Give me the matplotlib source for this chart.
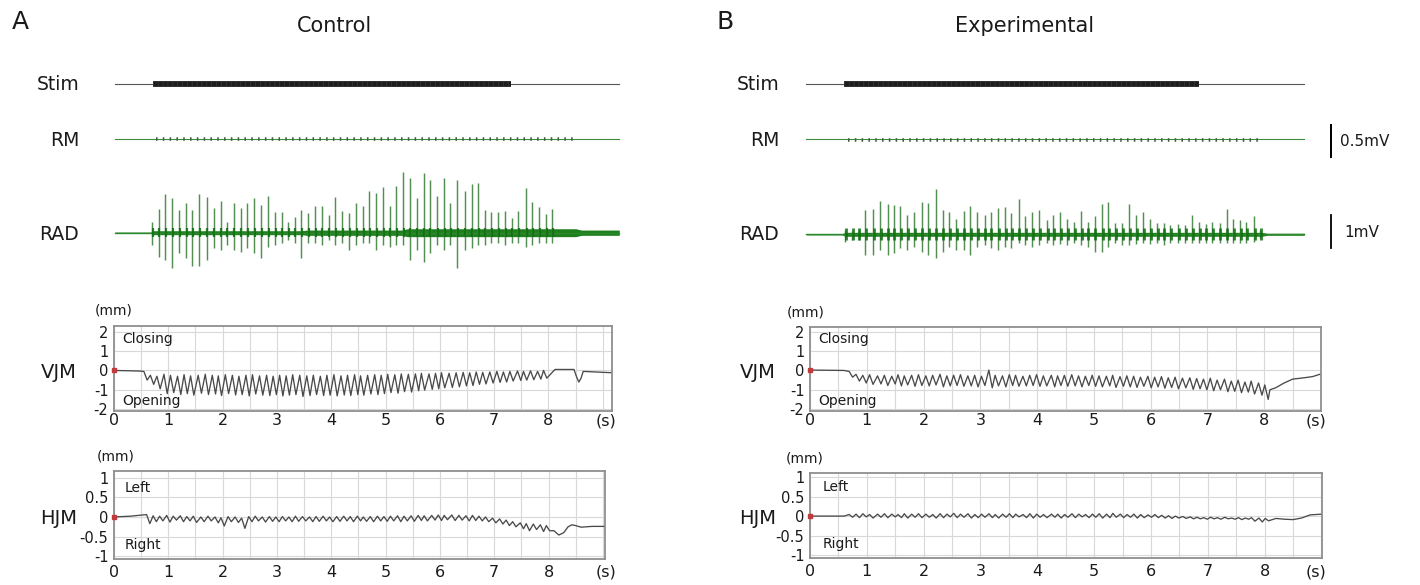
import numpy as np
import matplotlib
matplotlib.use("Agg")
import matplotlib.pyplot as plt

W, H = 1420, 585
plt.rcParams['font.family'] = ['DejaVu Sans']
plt.rcParams['lines.scale_dashes'] = False

# ---------------- data ----------------
# Panel A (Control) -- RAD burst spikes: time (s), upward and downward amplitude (mV)
rad_a_t = [0.65, 0.77, 0.89, 1.02, 1.14, 1.27, 1.39, 1.51, 1.65, 1.78,
           1.91, 2.02, 2.15, 2.28, 2.40, 2.53, 2.65, 2.78, 2.91, 3.03,
           3.15, 3.27, 3.39, 3.52, 3.65, 3.77, 3.90, 4.02, 4.15, 4.28,
           4.40, 4.53, 4.64, 4.77, 4.90, 5.02, 5.14, 5.27, 5.39, 5.52,
           5.65, 5.76, 5.90, 6.02, 6.13, 6.27, 6.40, 6.53, 6.65, 6.77,
           6.89, 7.02, 7.15, 7.27, 7.39, 7.53, 7.64, 7.77, 7.90, 8.01]
rad_a_up = [0.33, 0.71, 1.16, 1.04, 0.69, 0.89, 0.69, 1.16, 1.09, 0.74,
            0.96, 0.33, 0.91, 0.74, 0.89, 1.06, 0.84, 1.11, 0.64, 0.64,
            0.33, 0.48, 0.69, 0.61, 0.81, 0.82, 0.54, 1.07, 0.66, 0.59,
            0.89, 0.81, 1.26, 1.21, 1.39, 0.81, 1.43, 1.85, 1.65, 1.06,
            1.80, 1.60, 1.11, 1.65, 0.91, 1.60, 1.27, 1.49, 1.52, 0.69,
            0.64, 0.64, 0.67, 0.45, 0.67, 1.34, 0.94, 0.79, 0.56, 0.71]
rad_a_dn = [0.37, 0.73, 0.83, 1.08, 0.63, 0.78, 1.01, 1.01, 0.83, 0.47,
            0.51, 0.37, 0.53, 0.58, 0.47, 0.63, 0.78, 0.42, 0.37, 0.32,
            0.22, 0.30, 0.78, 0.32, 0.30, 0.37, 0.22, 0.37, 0.30, 0.51,
            0.37, 0.32, 0.32, 0.51, 0.37, 0.42, 0.37, 0.37, 0.83, 0.53,
            0.88, 0.63, 0.37, 0.53, 0.37, 1.08, 0.53, 0.47, 0.37, 0.37,
            0.32, 0.32, 0.37, 0.30, 0.32, 0.42, 0.37, 0.32, 0.30, 0.32]
rad_a_env_t = [-0.04, 0.62, 0.68, 3.40, 3.50, 5.25, 5.35, 8.45, 8.55, 9.25]
rad_a_env_w = [0.02, 0.02, 0.06, 0.06, 0.08, 0.08, 0.12, 0.12, 0.08, 0.08]
rec_a = [-0.04, 9.25]          # recording extent of the upper traces (s)
stim_a = [0.66, 7.25]          # stimulation train on/off (s)
rm_a = [0.72, 8.45]            # RM small responses on/off (s)

# VJM (mm): per-cycle peak and trough
vjm_a_peak = [-0.05, -0.25, -0.30, -0.20, -0.25, -0.30, -0.22, -0.28, -0.25, -0.20,
              -0.25, -0.28, -0.22, -0.25, -0.30, -0.25, -0.22, -0.28, -0.25, -0.30,
              -0.25, -0.28, -0.22, -0.25, -0.28, -0.25, -0.30, -0.25, -0.22, -0.28,
              -0.25, -0.22, -0.28, -0.25, -0.22, -0.25, -0.20, -0.22, -0.18, -0.20,
              -0.18, -0.15, -0.18, -0.15, -0.12, -0.15, -0.12, -0.10, -0.12, -0.08,
              -0.10, -0.08, -0.05, -0.08, -0.05, -0.03, -0.05, -0.02, -0.05, 0.00]
vjm_a_trough = [-0.50, -0.72, -0.95, -1.20, -1.15, -1.25, -1.20, -1.28, -1.18, -1.25,
                -1.22, -1.30, -1.20, -1.27, -1.25, -1.32, -1.22, -1.28, -1.30, -1.25,
                -1.32, -1.28, -1.25, -1.35, -1.30, -1.25, -1.30, -1.28, -1.32, -1.27,
                -1.30, -1.25, -1.28, -1.22, -1.25, -1.20, -1.15, -1.18, -1.10, -1.12,
                -1.05, -1.02, -0.98, -0.95, -0.90, -0.88, -0.85, -0.80, -0.78, -0.72,
                -0.70, -0.65, -0.62, -0.60, -0.55, -0.52, -0.50, -0.48, -0.45, -0.40]
vjm_a_head_t = [0.0, 0.45]
vjm_a_head_y = [0.0, -0.03]
vjm_a_tail_t = [8.12, 8.47, 8.52, 8.56, 8.60, 8.64, 8.85, 9.17]
vjm_a_tail_y = [0.05, 0.05, -0.35, -0.60, -0.40, -0.05, -0.08, -0.12]

# HJM (mm)
hjm_a_peak = [0.06, 0.03, 0.02, 0.04, 0.02, 0.03, 0.01, 0.02, 0.00, 0.02,
              0.00, -0.02, 0.01, 0.00, -0.03, 0.01, 0.02, 0.00, 0.01, 0.00,
              0.01, 0.00, 0.02, 0.01, 0.00, 0.01, 0.02, 0.00, 0.01, 0.02,
              0.01, 0.02, 0.00, 0.01, 0.02, 0.01, 0.02, 0.03, 0.02, 0.03,
              0.04, 0.03, 0.04, 0.05, 0.04, 0.05, 0.04, 0.03, 0.04, 0.02,
              0.00, -0.03, -0.05, -0.08, -0.12, -0.15, -0.17, -0.18, -0.20, -0.22]
hjm_a_trough = [-0.17, -0.12, -0.10, -0.13, -0.08, -0.12, -0.10, -0.14, -0.12, -0.10,
                -0.15, -0.23, -0.12, -0.14, -0.29, -0.12, -0.10, -0.13, -0.11, -0.12,
                -0.10, -0.12, -0.11, -0.10, -0.12, -0.11, -0.10, -0.12, -0.11, -0.10,
                -0.12, -0.10, -0.11, -0.12, -0.10, -0.11, -0.10, -0.12, -0.10, -0.11,
                -0.09, -0.10, -0.08, -0.09, -0.07, -0.09, -0.08, -0.10, -0.09, -0.10,
                -0.12, -0.15, -0.18, -0.22, -0.25, -0.30, -0.35, -0.32, -0.37, -0.35]
hjm_a_head_t = [0.0, 0.30]
hjm_a_head_y = [0.0, 0.02]
hjm_a_tail_t = [8.10, 8.19, 8.28, 8.36, 8.43, 8.50, 8.60, 8.80, 9.04]
hjm_a_tail_y = [-0.35, -0.46, -0.40, -0.25, -0.20, -0.22, -0.26, -0.24, -0.24]

# Panel B (Experimental)
rad_b_t = [0.60, 0.72, 0.84, 0.96, 1.10, 1.22, 1.35, 1.46, 1.57, 1.70,
           1.82, 1.95, 2.07, 2.20, 2.32, 2.44, 2.56, 2.69, 2.81, 2.93,
           3.06, 3.17, 3.30, 3.42, 3.53, 3.66, 3.78, 3.90, 4.02, 4.16,
           4.27, 4.39, 4.52, 4.64, 4.76, 4.88, 5.00, 5.13, 5.24, 5.37,
           5.49, 5.61, 5.73, 5.86, 5.98, 6.10, 6.22, 6.34, 6.47, 6.60,
           6.72, 6.84, 6.96, 7.08, 7.21, 7.33, 7.45, 7.57, 7.68, 7.81, 7.92]
rad_b_up = [0.13, 0.10, 0.13, 0.74, 0.77, 1.00, 0.91, 0.89, 0.87, 0.57,
            0.69, 0.97, 0.94, 1.36, 0.74, 0.69, 0.45, 0.71, 0.87, 0.67,
            0.59, 0.67, 0.79, 0.82, 0.64, 1.07, 0.54, 0.69, 0.74, 0.43,
            0.57, 0.67, 0.45, 0.36, 0.71, 0.38, 0.54, 0.91, 0.99, 0.33,
            0.33, 0.91, 0.57, 0.67, 0.45, 0.33, 0.33, 0.28, 0.30, 0.28,
            0.59, 0.38, 0.30, 0.38, 0.33, 0.76, 0.45, 0.43, 0.38, 0.54, 0.13]
rad_b_dn = [0.22, 0.17, 0.17, 0.63, 0.63, 0.48, 0.63, 0.58, 0.42, 0.48,
            0.38, 0.53, 0.63, 0.73, 0.53, 0.38, 0.48, 0.48, 0.63, 0.38,
            0.33, 0.42, 0.48, 0.38, 0.42, 0.27, 0.33, 0.38, 0.33, 0.27,
            0.33, 0.30, 0.33, 0.27, 0.33, 0.38, 0.53, 0.53, 0.38, 0.27,
            0.33, 0.33, 0.30, 0.27, 0.30, 0.27, 0.33, 0.27, 0.27, 0.25,
            0.27, 0.25, 0.27, 0.25, 0.25, 0.27, 0.27, 0.27, 0.25, 0.22, 0.12]
rad_b_env_t = [-0.08, 0.55, 0.60, 7.95, 8.05, 8.70]
rad_b_env_w = [0.02, 0.02, 0.06, 0.06, 0.03, 0.03]
rec_b = [-0.08, 8.70]
stim_b = [0.58, 6.85]
rm_b = [0.65, 7.94]

vjm_b_peak = [-0.05, -0.20, -0.25, -0.22, -0.28, -0.25, -0.30, -0.22, -0.28, -0.25,
              -0.22, -0.28, -0.25, -0.20, -0.28, -0.25, -0.22, -0.28, -0.25, -0.30,
              0.02, -0.25, -0.28, -0.22, -0.25, -0.30, -0.25, -0.22, -0.28, -0.25,
              -0.28, -0.25, -0.22, -0.28, -0.30, -0.25, -0.28, -0.30, -0.25, -0.32,
              -0.28, -0.30, -0.35, -0.30, -0.35, -0.32, -0.38, -0.35, -0.40, -0.38,
              -0.42, -0.45, -0.40, -0.50, -0.45, -0.55, -0.50, -0.60, -0.55, -0.65, -0.75]
vjm_b_trough = [-0.35, -0.55, -0.65, -0.72, -0.70, -0.78, -0.70, -0.80, -0.75, -0.82,
                -0.78, -0.80, -0.75, -0.85, -0.80, -0.78, -0.82, -0.80, -0.85, -0.78,
                -0.90, -0.80, -0.85, -0.78, -0.82, -0.80, -0.78, -0.82, -0.80, -0.85,
                -0.78, -0.82, -0.80, -0.85, -0.78, -0.82, -0.85, -0.80, -0.88, -0.82,
                -0.85, -0.88, -0.82, -0.90, -0.85, -0.92, -0.88, -0.95, -0.90, -0.98,
                -0.95, -1.00, -1.05, -1.00, -1.10, -1.08, -1.15, -1.12, -1.22, -1.28, -1.50]
vjm_b_head_t = [0.0, 0.60]
vjm_b_head_y = [0.02, 0.0]
vjm_b_tail_t = [8.10, 8.20, 8.35, 8.50, 8.70, 8.85, 9.00]
vjm_b_tail_y = [-1.00, -0.90, -0.65, -0.45, -0.38, -0.32, -0.18]

hjm_b_peak = [0.04, 0.05, 0.06, 0.04, 0.05, 0.06, 0.05, 0.04, 0.06, 0.05,
              0.06, 0.05, 0.04, 0.06, 0.05, 0.07, 0.05, 0.06, 0.04, 0.05,
              0.06, 0.04, 0.05, 0.06, 0.05, 0.04, 0.06, 0.05, 0.04, 0.05,
              0.05, 0.04, 0.06, 0.05, 0.04, 0.05, 0.06, 0.05, 0.07, 0.05,
              0.04, 0.05, 0.04, 0.03, 0.04, 0.02, 0.01, 0.00, -0.01, -0.02,
              -0.03, -0.04, -0.03, -0.04, -0.03, -0.05, -0.04, -0.05, -0.04, -0.05, -0.06]
hjm_b_trough = [-0.03, -0.04, -0.02, -0.05, -0.03, -0.04, -0.02, -0.04, -0.05, -0.03,
                -0.04, -0.03, -0.05, -0.04, -0.02, -0.04, -0.03, -0.05, -0.04, -0.03,
                -0.04, -0.05, -0.03, -0.04, -0.02, -0.04, -0.05, -0.03, -0.04, -0.03,
                -0.05, -0.03, -0.04, -0.02, -0.04, -0.03, -0.05, -0.04, -0.03, -0.04,
                -0.03, -0.05, -0.04, -0.03, -0.04, -0.05, -0.06, -0.05, -0.06, -0.07,
                -0.07, -0.08, -0.07, -0.08, -0.07, -0.08, -0.09, -0.08, -0.13, -0.15, -0.12]
hjm_b_head_t = [0.0, 0.60]
hjm_b_head_y = [0.0, 0.0]
hjm_b_tail_t = [8.20, 8.35, 8.50, 8.65, 8.80, 9.01]
hjm_b_tail_y = [-0.06, -0.08, -0.09, -0.05, 0.03, 0.05]

vjm_ticks = [2, 1, 0, -1, -2]
vjm_ticklabels = ['2', '1', '0', '-1', '-2']
hjm_ticks = [1, 0.5, 0, -0.5, -1]
hjm_ticklabels = ['1', '0.5', '0', '-0.5', '-1']
time_ticks = [0, 1, 2, 3, 4, 5, 6, 7, 8]

# ---------------- drawing ----------------
fig = plt.figure(figsize=(W / 100, H / 100), dpi=100)
fig.patch.set_facecolor('white')


def add_ax(x0, y0, x1, y1):
    return fig.add_axes([x0 / W, 1 - y1 / H, (x1 - x0) / W, (y1 - y0) / H])


def ftext(x, y, s, **kw):
    kw.setdefault('va', 'center')
    kw.setdefault('color', '#1a1a1a')
    fig.text(x / W, 1 - y / H, s, **kw)


def trace_axes(ox, k, left, right, yc, ppu, top, bot):
    ax = add_ax(left, yc - top, right, yc + bot)
    ax.set_xlim((left - ox) / k, (right - ox) / k)
    ax.set_ylim(-bot / ppu, top / ppu)
    ax.axis('off')
    return ax


def zigzag(cyc_t, lag, dt, peaks, troughs, head_t, head_y, tail_t, tail_y):
    t = list(head_t)
    y = list(head_y)
    for ti, p, q in zip(cyc_t, peaks, troughs):
        t += [ti + lag, ti + lag + dt]
        y += [p, q]
    return t + list(tail_t), y + list(tail_y)


def jm_axes(x0, y0, x1, y1, xlim, ylim, yticks, ylabels, xpad):
    ax = add_ax(x0, y0, x1, y1)
    ax.set_xlim(*xlim)
    ax.set_ylim(*ylim)
    ax.set_xticks(time_ticks)
    ax.set_xticklabels([str(v) for v in time_ticks])
    ax.set_xticks([0.5 * i for i in range(1, 19)], minor=True)
    ax.set_yticks(yticks)
    ax.set_yticklabels(ylabels)
    ax.grid(True, which='both', color='#d8d8d8', lw=0.8)
    ax.set_axisbelow(True)
    ax.tick_params(which='both', length=0)
    ax.tick_params(axis='x', labelsize=11.5, pad=xpad, colors='#1a1a1a')
    ax.tick_params(axis='y', labelsize=10.5, pad=4, colors='#1a1a1a')
    for s in ax.spines.values():
        s.set_color('#8f8f8f')
        s.set_linewidth(1.3)
    return ax


def top_traces(ox, k, left, right, rad_yc, rec, stim, rm, rad_t, up, dn,
               env_t, env_w, burst, burst_lw, rm_offset, scale_bars):
    # Stim
    ax = trace_axes(ox, k, left, right, 84, 15, 15, 15)
    ax.plot(rec, [0, 0], color='#555555', lw=0.8)
    ax.plot(stim, [0, 0], color='#1e1e1e', lw=4.2, solid_capstyle='butt')
    ax.plot(stim, [0, 0], color='#3c3c3c', lw=4.2, ls=(0, (0.5, 3.0)))
    # RM
    ax = trace_axes(ox, k, left, right, 138.5, 64, 30, 30)
    ax.plot(rec, [0, 0], color='#3d8f3d', lw=0.8)
    ax.plot(rm, [rm_offset, rm_offset], color='#3f5f3f', lw=2.6,
            ls=(0, (1.1, 3.8)), solid_capstyle='butt')
    if scale_bars:
        ax.plot([9.17, 9.17], [-0.29, 0.21], color='black', lw=1.3)
    # RAD
    ax = trace_axes(ox, k, left, right, rad_yc, 33, 70, 52)
    ax.plot(rec, [0, 0], color='#2a8a2a', lw=1.0)
    ax.fill_between(env_t, [-w for w in env_w], env_w, color='#1f7f1f', lw=0)
    ax.vlines(rad_t, [-d for d in dn], up, color='#538f53', lw=1.05)
    ax.vlines([t + 0.012 for t in rad_t], -burst, burst, color='#0d6d0d',
              lw=burst_lw, alpha=0.85)


# Panel A upper traces
top_traces(117, 54.3, 95, 660, 232.7, rec_a, stim_a, rm_a, rad_a_t, rad_a_up,
           rad_a_dn, rad_a_env_t, rad_a_env_w, 0.13, 1.6, 0.0, False)
# Panel B upper traces
top_traces(811, 56.7, 790, 1340, 234.3, rec_b, stim_b, rm_b, rad_b_t, rad_b_up,
           rad_b_dn, rad_b_env_t, rad_b_env_w, 0.18, 2.0, -0.025, True)

# scale bars of panel B (drawn on their own axes with the same mV scales)
ax = trace_axes(811, 56.7, 790, 1340, 138.5, 64, 30, 30)
ax.plot([9.17, 9.17], [-0.29, 0.21], color='black', lw=1.3)
ax = trace_axes(811, 56.7, 790, 1340, 234.3, 33, 70, 52)
ax.plot([9.17, 9.17], [-0.42, 0.58], color='black', lw=1.3)

line_kw = dict(color='#4a4a4a', lw=0.95)


def mark_origin(ax):
    ax.plot([0], [0], marker='s', ms=2.5, color='#c23b3b', clip_on=False, zorder=5)


# A VJM
ax = jm_axes(114, 326, 612, 411, (0, 9.17), (-2.1, 2.3), vjm_ticks, vjm_ticklabels, 1.5)
t, y = zigzag(rad_a_t, -0.1, 0.06, vjm_a_peak, vjm_a_trough,
              vjm_a_head_t, vjm_a_head_y, vjm_a_tail_t, vjm_a_tail_y)
ax.plot(t, y, **line_kw)
mark_origin(ax)
ax.text(0.15, 1.64, 'Closing', fontsize=10, va='center', color='#1a1a1a')
ax.text(0.15, -1.6, 'Opening', fontsize=10, va='center', color='#1a1a1a')

# A HJM
ax = jm_axes(114, 471, 605, 559, (0, 9.04), (-1.07, 1.17), hjm_ticks, hjm_ticklabels, 4)
t, y = zigzag(rad_a_t, -0.05, 0.06, hjm_a_peak, hjm_a_trough,
              hjm_a_head_t, hjm_a_head_y, hjm_a_tail_t, hjm_a_tail_y)
ax.plot(t, y, **line_kw)
mark_origin(ax)
ax.text(0.2, 0.73, 'Left', fontsize=10, va='center', color='#1a1a1a')
ax.text(0.2, -0.72, 'Right', fontsize=10, va='center', color='#1a1a1a')

# B VJM
ax = jm_axes(810, 327, 1321, 411, (0, 9.0), (-2.1, 2.25), vjm_ticks, vjm_ticklabels, 1.5)
t, y = zigzag(rad_b_t, 0.09, 0.06, vjm_b_peak, vjm_b_trough,
              vjm_b_head_t, vjm_b_head_y, vjm_b_tail_t, vjm_b_tail_y)
ax.plot(t, y, **line_kw)
mark_origin(ax)
ax.text(0.14, 1.64, 'Closing', fontsize=10, va='center', color='#1a1a1a')
ax.text(0.14, -1.6, 'Opening', fontsize=10, va='center', color='#1a1a1a')

# B HJM
ax = jm_axes(810, 473, 1322, 558, (0, 9.01), (-1.07, 1.1), hjm_ticks, hjm_ticklabels, 4)
t, y = zigzag(rad_b_t, 0.09, 0.06, hjm_b_peak, hjm_b_trough,
              hjm_b_head_t, hjm_b_head_y, hjm_b_tail_t, hjm_b_tail_y)
ax.plot(t, y, **line_kw)
mark_origin(ax)
ax.text(0.22, 0.73, 'Left', fontsize=10, va='center', color='#1a1a1a')
ax.text(0.22, -0.72, 'Right', fontsize=10, va='center', color='#1a1a1a')

# ---------------- text ----------------
ftext(20, 22, 'A', size=18, ha='center')
ftext(335, 26, 'Control', size=15, ha='center')
ftext(725, 22, 'B', size=18, ha='center')
ftext(1025, 26, 'Experimental', size=15, ha='center')

for xr, xr2 in [(79, 77), (779, 776)]:
    ftext(xr, 85, 'Stim', size=13.5, ha='right')
    ftext(xr, 141, 'RM', size=13.5, ha='right')
    ftext(xr, 234, 'RAD', size=13.5, ha='right')
    ftext(xr2, 372, 'VJM', size=14, ha='right')
    ftext(xr2, 519, 'HJM', size=14, ha='right')

for x, y in [(114, 311), (116, 457), (806, 312), (805, 458)]:
    ftext(x, y, '(mm)', size=10, ha='center')
for x, y in [(606, 421), (606, 572), (1316, 421), (1316, 572)]:
    ftext(x, y, '(s)', size=11.5, ha='center')

ftext(1340, 141, '0.5mV', size=11, ha='left')
ftext(1344, 233, '1mV', size=11, ha='left')

fig.savefig('out.png', dpi=100, facecolor='white')
